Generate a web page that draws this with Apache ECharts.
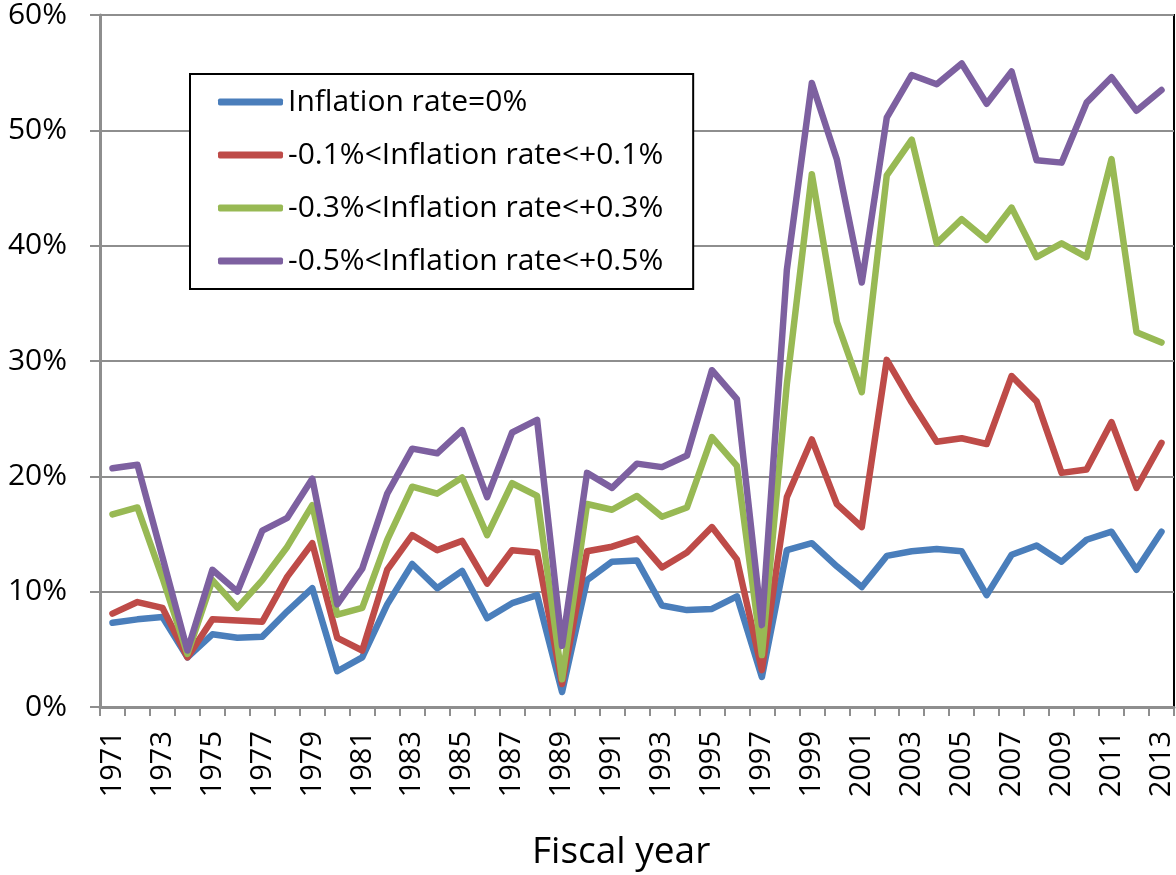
<!DOCTYPE html>
<html>
<head>
<meta charset="utf-8">
<script src="https://cdn.jsdelivr.net/npm/echarts@6/dist/echarts.min.js"></script>
<style>
html,body{margin:0;padding:0;background:#fff;}
#chart{width:1176px;height:875px;}
</style>
</head>
<body>
<div id="chart"></div>
<script>
var years = ['1971','1972','1973','1974','1975','1976','1977','1978','1979','1980',
  '1981','1982','1983','1984','1985','1986','1987','1988','1989','1990',
  '1991','1992','1993','1994','1995','1996','1997','1998','1999','2000',
  '2001','2002','2003','2004','2005','2006','2007','2008','2009','2010',
  '2011','2012','2013'];

var seriesNames = ['Inflation rate=0%', '-0.1%<Inflation rate<+0.1%', '-0.3%<Inflation rate<+0.3%', '-0.5%<Inflation rate<+0.5%'];

var rate0 = [7.3,7.6,7.8,4.3,6.3,6.0,6.1,8.3,10.3,3.1,
  4.3,8.9,12.4,10.3,11.8,7.7,9.0,9.7,1.3,11.0,
  12.6,12.7,8.8,8.4,8.5,9.6,2.6,13.6,14.2,12.2,
  10.4,13.1,13.5,13.7,13.5,9.7,13.2,14.0,12.6,14.5,
  15.2,11.9,15.2];

var rate01 = [8.1,9.1,8.6,4.3,7.6,7.5,7.4,11.3,14.2,6.0,
  4.9,11.9,14.9,13.6,14.4,10.7,13.6,13.4,2.0,13.5,
  13.9,14.6,12.1,13.4,15.6,12.8,3.2,18.2,23.2,17.6,
  15.6,30.1,26.4,23.0,23.3,22.8,28.7,26.5,20.3,20.6,
  24.7,19.0,22.9];

var rate03 = [16.7,17.3,11.2,4.6,11.0,8.6,11.0,13.9,17.5,8.0,
  8.6,14.5,19.1,18.5,19.9,14.9,19.4,18.3,2.4,17.6,
  17.1,18.3,16.5,17.3,23.4,20.9,4.5,28.0,46.2,33.4,
  27.3,46.1,49.2,40.2,42.3,40.5,43.3,39.0,40.2,39.0,
  47.5,32.5,31.6];

var rate05 = [20.7,21.0,13.0,4.9,11.9,10.0,15.3,16.4,19.8,8.9,
  12.0,18.5,22.4,22.0,24.0,18.2,23.8,24.9,5.3,20.3,
  19.0,21.1,20.8,21.8,29.2,26.7,7.1,37.9,54.1,47.5,
  36.8,51.1,54.8,54.0,55.8,52.3,55.1,47.4,47.2,52.4,
  54.6,51.7,53.5];

var colors = ['#4A7EBB', '#BE4B48', '#98B954', '#7D60A0'];
var seriesData = [rate0, rate01, rate03, rate05];

var FONT = '"Open Sans", "Liberation Sans", sans-serif';

var chart = echarts.init(document.getElementById('chart'), null, {renderer: 'canvas'});

var series = seriesData.map(function (d, i) {
  return {
    name: seriesNames[i],
    type: 'line',
    data: d,
    symbol: 'none',
    smooth: false,
    color: colors[i],
    lineStyle: {color: colors[i], width: 6.5, cap: 'round', join: 'round'},
    itemStyle: {color: colors[i]},
    z: 3 + i
  };
});

chart.setOption({
  animation: false,
  backgroundColor: '#fff',
  title: {
    text: 'Fiscal year',
    left: 527,
    top: 829,
    textStyle: {fontFamily: FONT, fontSize: 37, fontWeight: 'normal', color: '#000'}
  },
  grid: {
    left: 100, right: 2, top: 15, bottom: 168,
    show: true, borderColor: '#000', borderWidth: 2, backgroundColor: '#fff',
    containLabel: false
  },
  legend: {
    orient: 'vertical',
    left: 190,
    top: 74,
    padding: [10, 30, 10, 28],
    itemGap: 17,
    itemWidth: 65,
    itemHeight: 7,
    icon: 'roundRect',
    backgroundColor: '#fff',
    borderColor: '#000',
    borderWidth: 2,
    borderRadius: 0,
    data: seriesNames,
    textStyle: {fontFamily: FONT, fontSize: 30, color: '#000', lineHeight: 36, padding: [0, 0, 0, 0]},
    z: 10
  },
  xAxis: {
    type: 'category',
    data: years,
    boundaryGap: true,
    axisLine: {show: true, lineStyle: {color: '#8E8E8E', width: 3}},
    axisTick: {show: true, interval: 0, alignWithLabel: false, length: 9, lineStyle: {color: '#8E8E8E', width: 2}},
    axisLabel: {interval: 1, rotate: 90, margin: 24, fontFamily: FONT, fontSize: 29, color: '#000'},
    splitLine: {show: false}
  },
  yAxis: {
    type: 'value',
    min: 0, max: 60, interval: 10,
    axisLine: {show: true, lineStyle: {color: '#8E8E8E', width: 3}},
    axisTick: {show: true, length: 10, lineStyle: {color: '#8E8E8E', width: 2}},
    axisLabel: {formatter: '{value}%', margin: 33, fontFamily: FONT, fontSize: 30, color: '#000'},
    splitLine: {show: true, lineStyle: {color: '#8E8E8E', width: 2}}
  },
  series: series
});
</script>
</body>
</html>
